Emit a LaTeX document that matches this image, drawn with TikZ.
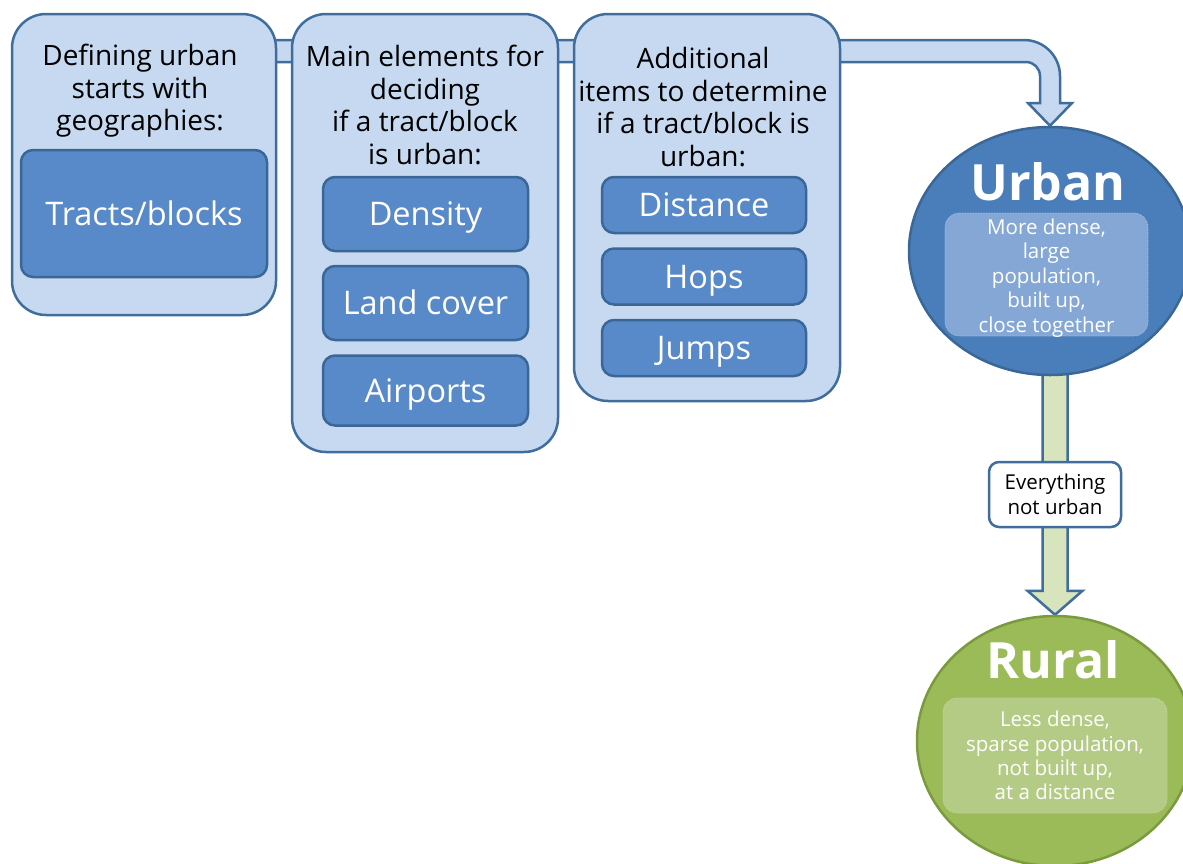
\documentclass[tikz,border=0pt]{standalone}
\usepackage{fontspec}
\setmainfont{Open Sans}
\usetikzlibrary{shapes.geometric,calc,backgrounds}

\definecolor{panelfill}{HTML}{C6D9F1}
\definecolor{paneledge}{HTML}{3F6D9C}
\definecolor{itemfill}{HTML}{5889C8}
\definecolor{itemedge}{HTML}{3A6796}
\definecolor{urbanfill}{HTML}{4A7EBB}
\definecolor{urbaninner}{HTML}{84A7D5}
\definecolor{ruralfill}{HTML}{9BBB59}
\definecolor{ruraledge}{HTML}{7A9A3E}
\definecolor{ruralinner}{HTML}{B3CB84}
\definecolor{arrowgreen}{HTML}{D7E4BD}

\begin{document}
\begin{tikzpicture}[x=1pt,y=-1pt,
  panel/.style={draw=paneledge,line width=2.5pt,fill=panelfill,rounded corners=34pt,inner sep=0pt},
  item/.style={draw=itemedge,line width=2.5pt,fill=itemfill,rounded corners=12pt,text=white,
    font=\fontsize{32.5}{36}\selectfont,minimum width=205pt,inner sep=0pt,
    text height=23pt,text depth=0pt},
  heading/.style={align=center,font=\fontsize{28}{32.5}\selectfont,inner sep=0pt},
  blob/.style={ellipse,line width=2.5pt,inner sep=0pt},
  title/.style={text=white,font=\fontsize{50}{60}\selectfont\bfseries,inner sep=0pt},
  notebox/.style={rounded corners=14pt,densely dotted,line width=0.6pt,inner sep=0pt},
  notetext/.style={align=center,text=white,font=\fontsize{20.5}{24.4}\selectfont,inner sep=0pt},
  tag/.style={draw=paneledge,line width=2.5pt,fill=white,rounded corners=10pt,align=center,
    font=\fontsize{20.5}{24.4}\selectfont,inner sep=0pt,minimum width=132pt,minimum height=65pt},
  band/.style={draw=paneledge,line width=2.5pt,fill=panelfill,line join=miter},
  downarrow/.style={draw=paneledge,line width=2.5pt,fill=arrowgreen,line join=miter}
]
\useasboundingbox (0,0) rectangle (1183,863);
\clip (0,0) rectangle (1183,863);

% three panels
\node[panel,minimum width=264pt,minimum height=301pt] (geo) at (144,164.5) {};
\node[panel,minimum width=266pt,minimum height=438pt] (main) at (425,233) {};
\node[panel,minimum width=266pt,minimum height=387pt] (extra) at (707,207.5) {};

\node[heading] (geohead) at (140,91) {Defining urban\\starts with\\geographies:};
\node[heading] (mainhead) at (425,105) {Main elements for\\deciding\\if a tract/block\\is urban:};
\node[heading] (extrahead) at (703,107) {Additional\\items to determine\\if a tract/block is\\urban:};

\node[item,minimum width=246pt,minimum height=127pt] (tracts) at (144,213.5) {Tracts/blocks};
\node[item,minimum height=74pt] (density) at (425.5,214) {Density};
\node[item,minimum height=74pt] (landcover) at (425.5,303) {Land cover};
\node[item,minimum height=70pt] (airports) at (425.5,390.5) {Airports};
\node[item,minimum width=204pt,minimum height=56pt] (distance) at (704,205) {Distance};
\node[item,minimum width=204pt,minimum height=56pt] (hops) at (704,276.5) {Hops};
\node[item,minimum width=204pt,minimum height=56pt] (jumps) at (704,348) {Jumps};

% outcomes
\node[blob,draw=itemedge,fill=urbanfill,minimum width=282pt,minimum height=248pt] (urban) at (1050,251) {};
\node[title] (urbantitle) at (1048,182) {Urban};
\node[notebox,fill=urbaninner,draw=white!40!urbaninner,minimum width=203pt,minimum height=123pt] (urbannote)
  at (1046.5,274.5) {};
\node[notetext] (urbantext) at (1046.5,278) {More dense,\\large\\population,\\built up,\\close together};

\node[blob,draw=ruraledge,fill=ruralfill,minimum width=276pt,minimum height=250pt] (rural) at (1055,741) {};
\node[title] (ruraltitle) at (1053,660) {Rural};
\node[notebox,fill=ruralinner,draw=white!40!ruralinner,minimum width=224pt,minimum height=115pt] (ruralnote)
  at (1055,755.5) {};
\node[notetext] (ruraltext) at (1055,755.5) {Less dense,\\sparse population,\\not built up,\\at a distance};

\node[tag] (notUrban) at (1055,494.5) {Everything\\not urban};

% connectors behind everything
\begin{scope}[on background layer]
  \path[band] (geo.center |- 0,40) -- (1024,40) arc[start angle=-90,end angle=0,radius=36]
    -- (1060,103) -- (1072,103) -- (urban.north) -- (1028,103) -- (1040,103)
    -- (1040,76) arc[start angle=0,end angle=-90,radius=14] -- (geo.center |- 0,62) -- cycle;
  \path[downarrow] ($(rural.north)+(-12.5,-250)$) -- ($(rural.north)+(-12.5,-24)$)
    -- ($(rural.north)+(-27.5,-24)$) -- (rural.north) -- ($(rural.north)+(27.5,-24)$)
    -- ($(rural.north)+(12.5,-24)$) -- ($(rural.north)+(12.5,-250)$) -- cycle;
\end{scope}
\end{tikzpicture}
\end{document}
